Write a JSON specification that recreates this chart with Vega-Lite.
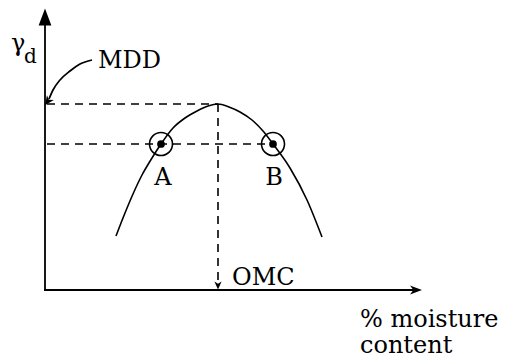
{
  "$schema": "https://vega.github.io/schema/vega-lite/v6.json",
  "width": 516,
  "height": 363,
  "autosize": {"type": "fit", "contains": "padding"},
  "padding": 0,
  "background": "white",
  "config": {"view": {"stroke": null}},
  "datasets": {
    "axes": [
      {"x": 45, "y": 291, "x2": 45, "y2": 20},
      {"x": 44, "y": 290, "x2": 414, "y2": 290}
    ],
    "dashed": [
      {"x": 47, "y": 104, "x2": 218, "y2": 104},
      {"x": 47, "y": 144, "x2": 273, "y2": 144},
      {"x": 218, "y": 104, "x2": 218, "y2": 282}
    ],
    "curve": [
      {"x": 116, "y": 236},
      {"x": 125, "y": 213},
      {"x": 133, "y": 194},
      {"x": 142, "y": 175},
      {"x": 152, "y": 158},
      {"x": 161, "y": 144},
      {"x": 173, "y": 128},
      {"x": 185, "y": 118},
      {"x": 197, "y": 111},
      {"x": 208, "y": 106},
      {"x": 218, "y": 104},
      {"x": 229, "y": 107},
      {"x": 240, "y": 112},
      {"x": 252, "y": 120},
      {"x": 263, "y": 131},
      {"x": 273, "y": 144},
      {"x": 290, "y": 168},
      {"x": 307, "y": 200},
      {"x": 322, "y": 237}
    ],
    "mddArrow": [
      {"x": 92, "y": 60},
      {"x": 80, "y": 64},
      {"x": 70, "y": 71},
      {"x": 60, "y": 80},
      {"x": 53, "y": 90},
      {"x": 49, "y": 99}
    ],
    "upHead": [{"x": 45, "y": 17}],
    "rightHead": [{"x": 416, "y": 290}],
    "downHead": [{"x": 218, "y": 285}],
    "mddHead": [{"x": 48, "y": 101}],
    "points": [
      {"x": 161, "y": 144, "label": "A"},
      {"x": 273, "y": 144, "label": "B"}
    ],
    "centerText": [
      {"x": 163, "y": 185, "text": "A"},
      {"x": 274, "y": 185, "text": "B"}
    ],
    "leftText": [
      {"x": 98, "y": 68, "text": "MDD"},
      {"x": 232, "y": 285, "text": "OMC"},
      {"x": 360, "y": 327, "text": "% moisture"},
      {"x": 360, "y": 353, "text": "content"},
      {"x": 11, "y": 51, "text": "γ"}
    ],
    "subText": [
      {"x": 24, "y": 63, "text": "d"}
    ]
  },
  "layer": [
    {
      "data": {"name": "axes"},
      "mark": {"type": "rule", "color": "black", "strokeWidth": 1.8},
      "encoding": {
        "x": {"field": "x", "type": "quantitative", "scale": {"domain": [0, 516], "nice": false, "zero": false}, "axis": null},
        "y": {"field": "y", "type": "quantitative", "scale": {"domain": [0, 363], "nice": false, "zero": false, "reverse": true}, "axis": null},
        "x2": {"field": "x2"},
        "y2": {"field": "y2"}
      }
    },
    {
      "data": {"name": "dashed"},
      "mark": {"type": "rule", "color": "black", "strokeWidth": 1.6, "strokeDash": [8, 6]},
      "encoding": {
        "x": {"field": "x", "type": "quantitative"},
        "y": {"field": "y", "type": "quantitative"},
        "x2": {"field": "x2"},
        "y2": {"field": "y2"}
      }
    },
    {
      "data": {"name": "curve"},
      "mark": {"type": "line", "color": "black", "strokeWidth": 1.6, "interpolate": "monotone"},
      "encoding": {
        "x": {"field": "x", "type": "quantitative"},
        "y": {"field": "y", "type": "quantitative"}
      }
    },
    {
      "data": {"name": "mddArrow"},
      "mark": {"type": "line", "color": "black", "strokeWidth": 1.7, "interpolate": "monotone"},
      "encoding": {
        "x": {"field": "x", "type": "quantitative"},
        "y": {"field": "y", "type": "quantitative"}
      }
    },
    {
      "data": {"name": "upHead"},
      "mark": {"type": "point", "shape": "M0,-1L-0.75,1L0.75,1Z", "filled": true, "color": "black", "size": 289, "opacity": 1},
      "encoding": {
        "x": {"field": "x", "type": "quantitative"},
        "y": {"field": "y", "type": "quantitative"}
      }
    },
    {
      "data": {"name": "rightHead"},
      "mark": {"type": "point", "shape": "M1,0L-1,-0.75L-0.45,0L-1,0.75Z", "filled": true, "color": "black", "size": 144, "opacity": 1},
      "encoding": {
        "x": {"field": "x", "type": "quantitative"},
        "y": {"field": "y", "type": "quantitative"}
      }
    },
    {
      "data": {"name": "downHead"},
      "mark": {"type": "point", "shape": "M0,1L-0.8,-0.8L0,-0.3L0.8,-0.8Z", "filled": true, "color": "black", "size": 81, "opacity": 1},
      "encoding": {
        "x": {"field": "x", "type": "quantitative"},
        "y": {"field": "y", "type": "quantitative"}
      }
    },
    {
      "data": {"name": "mddHead"},
      "mark": {"type": "point", "shape": "M0,1L-0.8,-0.8L0,-0.3L0.8,-0.8Z", "filled": true, "color": "black", "size": 110, "opacity": 1, "angle": 35},
      "encoding": {
        "x": {"field": "x", "type": "quantitative"},
        "y": {"field": "y", "type": "quantitative"}
      }
    },
    {
      "data": {"name": "points"},
      "mark": {"type": "point", "shape": "circle", "filled": false, "stroke": "black", "strokeWidth": 1.6, "size": 530, "opacity": 1},
      "encoding": {
        "x": {"field": "x", "type": "quantitative"},
        "y": {"field": "y", "type": "quantitative"}
      }
    },
    {
      "data": {"name": "points"},
      "mark": {"type": "point", "shape": "circle", "filled": true, "color": "black", "size": 60, "opacity": 1},
      "encoding": {
        "x": {"field": "x", "type": "quantitative"},
        "y": {"field": "y", "type": "quantitative"}
      }
    },
    {
      "data": {"name": "centerText"},
      "mark": {"type": "text", "font": "DejaVu Serif", "fontSize": 24, "align": "center", "baseline": "alphabetic", "color": "black"},
      "encoding": {
        "x": {"field": "x", "type": "quantitative"},
        "y": {"field": "y", "type": "quantitative"},
        "text": {"field": "text"}
      }
    },
    {
      "data": {"name": "leftText"},
      "mark": {"type": "text", "font": "DejaVu Serif", "fontSize": 24, "align": "left", "baseline": "alphabetic", "color": "black"},
      "encoding": {
        "x": {"field": "x", "type": "quantitative"},
        "y": {"field": "y", "type": "quantitative"},
        "text": {"field": "text"}
      }
    },
    {
      "data": {"name": "subText"},
      "mark": {"type": "text", "font": "DejaVu Serif", "fontSize": 20, "align": "left", "baseline": "alphabetic", "color": "black"},
      "encoding": {
        "x": {"field": "x", "type": "quantitative"},
        "y": {"field": "y", "type": "quantitative"},
        "text": {"field": "text"}
      }
    }
  ]
}
